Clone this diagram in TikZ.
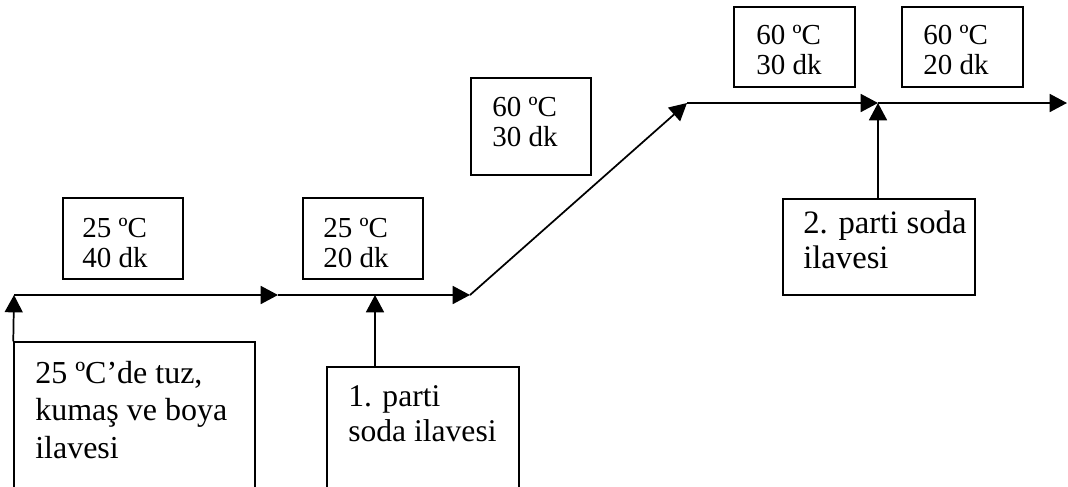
\documentclass[tikz,border=0pt]{standalone}
\usepackage{fontspec}
\setmainfont{Liberation Serif}
\usetikzlibrary{arrows.meta,fit}
\begin{document}
\begin{tikzpicture}[x=0.75pt,y=-0.75pt,
  box/.style={draw,line width=1.1pt,inner sep=0pt},
  lbl/.style={anchor=west,align=left,inner sep=0pt},
  small/.style={font=\fontsize{21.75}{22.5}\selectfont},
  flow/.style={line width=1.3pt,-{Triangle[length=13pt,width=13.5pt]}}]
\useasboundingbox (0,0) rectangle (1068,486);
\clip (0,0) rectangle (1068,486);
% path points
\coordinate (p0) at (14,295);
\coordinate (p1) at (278,295);
\coordinate (p2) at (470,295);
\coordinate (p3) at (687,103);
\coordinate (p4) at (878,103);
\coordinate (p5) at (1067,103);
\coordinate (q1) at (375,295);
% boxes
\node[box,fit={(63,198) (183,279)}] (b40) {};
\node[box,fit={(303,198) (423,279)}] (b20a) {};
\node[box,fit={(471,78) (591,175)}] (bmid) {};
\node[box,fit={(734,7) (855,87)}] (b30) {};
\node[box,fit={(902,7) (1023,87)}] (b20b) {};
\node[box,fit={(14,342) (255,500)}] (in1) {};
\node[box,fit={(327,367) (519,500)}] (in2) {};
\node[box,fit={(783,199) (975,295)}] (in3) {};
% texts
\begin{scope}
\clip (63,198) rectangle (183,268);
\node[lbl,small] (t40) at (82,243) {25 ºC\\40 dk};
\end{scope}
\begin{scope}
\clip (303,198) rectangle (423,268);
\node[lbl,small] (t20a) at (323,243) {25 ºC\\20 dk};
\end{scope}
\node[lbl,small] (tmid) at (492,122) {60 ºC\\30 dk};
\begin{scope}
\clip (734,7) rectangle (855,76);
\node[lbl,small] (t30) at (756,50) {60 ºC\\30 dk};
\end{scope}
\begin{scope}
\clip (902,7) rectangle (1023,76);
\node[lbl,small] (t20b) at (923,50) {60 ºC\\20 dk};
\end{scope}
\node[lbl,font=\fontsize{24}{28}\selectfont] (tin1) at (35,410) {25 ºC’de tuz,\\kumaş ve boya\\ilavesi};
\node[lbl,font=\fontsize{23.7}{26.25}\selectfont] (tin2) at (348,414) {1. parti\\soda ilavesi};
\node[lbl,font=\fontsize{24.5}{26.25}\selectfont] (tin3) at (803,240) {2. parti soda\\ilavesi};
% flow
\draw[flow] (p0) -- (p1);
\draw[flow] (p1) -- (p2);
\draw[flow] (p2) -- (p3);
\draw[flow] (p3) -- (p4);
\draw[flow] (p4) -- (p5);
\draw[flow] (in1.north west) -- (p0);
\draw[flow] (in2.north west -| q1) -- (q1);
\draw[flow] (in3.north -| p4) -- (p4);
\end{tikzpicture}
\end{document}
